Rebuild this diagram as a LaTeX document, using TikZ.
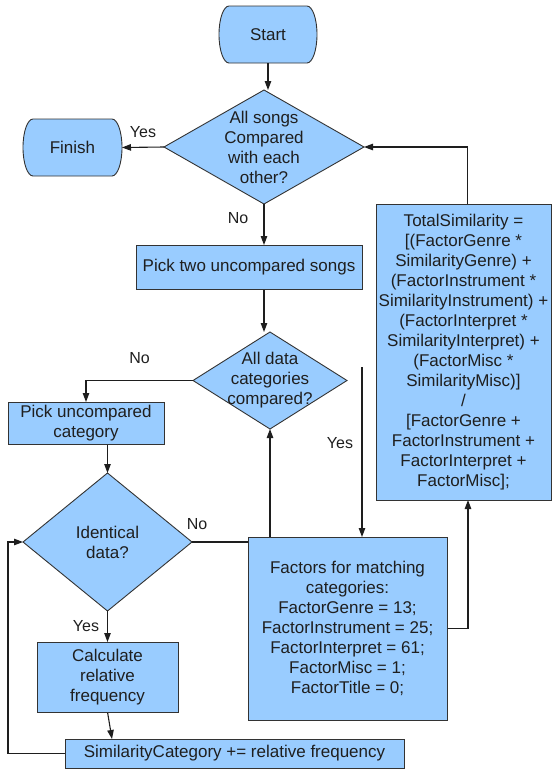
\documentclass[tikz,border=0pt]{standalone}
\usepackage{fontspec}
\setmainfont{Liberation Sans}
\usetikzlibrary{arrows.meta,backgrounds,calc}
\definecolor{boxfill}{HTML}{99CCFF}
\definecolor{edgecol}{HTML}{333333}
\definecolor{linecol}{HTML}{1E1E1E}
\begin{document}
\begin{tikzpicture}[x=1pt,y=-1pt,
  every node/.style={font=\fontsize{17}{20}\selectfont,text=black!88},
  base/.style={inner sep=0pt,outer sep=0pt,align=center},
  box/.style={base,rectangle,draw=edgecol,fill=boxfill,line width=0.9pt},
  ghost/.style={base,rectangle},
  shapeline/.style={draw=edgecol,fill=boxfill,line width=0.9pt},
  arr/.style={draw=linecol,line width=1.1pt,-{Triangle[length=9pt,width=6.5pt]}},
  conn/.style={draw=linecol,line width=1.1pt},
  lbl/.style={font=\fontsize{16}{19}\selectfont,inner sep=0pt}]
\useasboundingbox (0,0) rectangle (552,769);

% nodes
\node[ghost,minimum width=98pt,minimum height=57pt] (start) at (268,34.5) {Start};
\node[ghost,minimum width=200pt,minimum height=114pt] (d1) at (264,147) {All songs\\Compared\\with each\\other?};
\node[ghost,minimum width=99pt,minimum height=57pt] (fin) at (72.5,147.5) {Finish};
\node[box,minimum width=226pt,minimum height=44pt] (pick) at (249,267) {Pick two uncompared songs};
\node[box,minimum width=175pt,minimum height=296pt] (tot) at (463.5,352) {TotalSimilarity =\\{[}(FactorGenre *\\SimilarityGenre) +\\(FactorInstrument *\\SimilarityInstrument) +\\(FactorInterpret *\\SimilarityInterpret) +\\(FactorMisc *\\SimilarityMisc)]\\/\\{[}FactorGenre +\\FactorInstrument +\\FactorInterpret +\\FactorMisc];};
\node[ghost,minimum width=154pt,minimum height=97pt] (d2) at (270,380.5) {All data\\categories\\compared?};
\node[box,minimum width=156pt,minimum height=42pt] (pu) at (86,423) {Pick uncompared\\category};
\node[ghost,minimum width=169pt,minimum height=138pt] (id) at (107.5,542) {Identical\\data?};
\node[box,minimum width=199pt,minimum height=183pt] (fac) at (347.5,628.5) {Factors for matching\\categories:\\FactorGenre = 13;\\FactorInstrument = 25;\\FactorInterpret = 61;\\FactorMisc = 1;\\FactorTitle = 0;};
\node[box,minimum width=141pt,minimum height=70pt] (calc) at (107.5,677) {Calculate\\relative\\frequency};
\node[box,minimum width=339pt,minimum height=29pt] (sim) at (234.5,753.5) {SimilarityCategory += relative frequency};
\coordinate (yesstart) at (362,367);

% labels
\node[lbl] (l1) at (143,132) {Yes};
\node[lbl] (l2) at (238,218) {No};
\node[lbl] (l3) at (139.5,358) {No};
\node[lbl] (l4) at (340,443) {Yes};
\node[lbl] (l5) at (197,524) {No};
\node[lbl] (l6) at (86,626) {Yes};

\begin{pgfonlayer}{background}
  % terminators
  \foreach \n in {start,fin}{
    \path[shapeline] ([xshift=10pt]\n.north west) -- ([xshift=-10pt]\n.north east)
      .. controls ([xshift=-4.5pt]\n.north east) and ([yshift=15.7pt]\n.east) .. (\n.east)
      .. controls ([yshift=-15.7pt]\n.east) and ([xshift=-4.5pt]\n.south east) .. ([xshift=-10pt]\n.south east)
      -- ([xshift=10pt]\n.south west)
      .. controls ([xshift=4.5pt]\n.south west) and ([yshift=-15.7pt]\n.west) .. (\n.west)
      .. controls ([yshift=15.7pt]\n.west) and ([xshift=4.5pt]\n.north west) .. ([xshift=10pt]\n.north west) -- cycle;
  }
  % diamonds
  \foreach \n in {d1,d2,id}{
    \path[shapeline] (\n.north) -- (\n.east) -- (\n.south) -- (\n.west) -- cycle;
  }
  % connectors
  \draw[arr] (start.south) -- (start.south |- d1.north);
  \draw[arr] (d1.west) -- (fin.east);
  \draw[arr] (d1.south) -- (d1.south |- pick.north);
  \draw[arr] (d1.south |- pick.south) -- (d1.south |- d2.north);
  \draw[arr] (d2.west) -| (pu.north);
  \draw[arr] (id.north |- pu.south) -- (id.north);
  \draw[arr] (id.east) -| (d2.south);
  \draw[arr] (yesstart) -- (yesstart |- fac.north);
  \draw[arr] (fac.east) -| ([xshift=4.5pt]tot.south);
  \draw[arr] ([xshift=4pt]tot.north) |- (d1.east);
  \draw[arr] (id.south) -- (calc.north);
  \draw[arr] (calc.south) -- ([xshift=-122.5pt]sim.north);
  \draw[arr] (sim.west) -| ([xshift=-15pt]id.west) -- (id.west);
\end{pgfonlayer}
\end{tikzpicture}
\end{document}
